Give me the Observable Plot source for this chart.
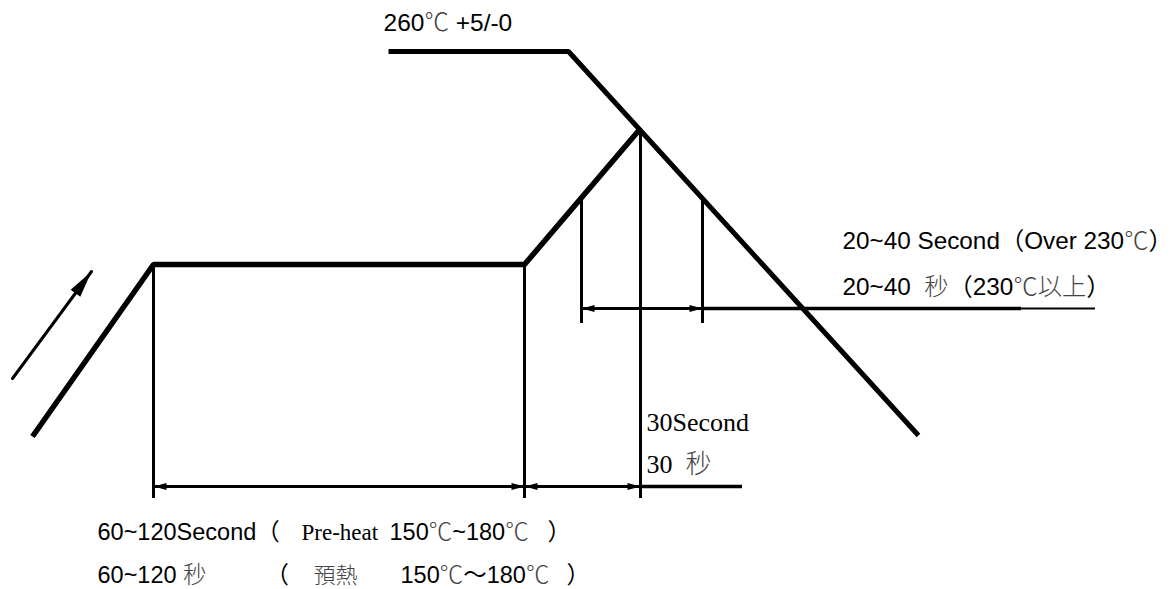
<!DOCTYPE html>
<html><head><meta charset="utf-8">
<script src="https://cdn.jsdelivr.net/npm/d3@7"></script>
<script src="https://cdn.jsdelivr.net/npm/@observablehq/plot@0.6"></script>
<style>
html,body{margin:0;padding:0;background:#fff}
</style>
</head><body><div id="chart"></div>
<script>
// ---- profile data (diagram units: x = time axis, y = drawing units, top = 0) ----
const heatX = [32, 153, 524, 640];
const heatY = [436, 264, 264, 128];
const coolX = [388, 568, 918];
const coolY = [51, 51, 435];

// vertical guide lines
const guideX = [153, 524, 640, 581, 702];
const guideTop = [264, 264, 128, 200, 200];
const guideBottom = [498, 498, 498, 323, 323];

// dimension lines with arrowheads at both ends
const dimX1 = [153, 524, 581];
const dimX2 = [524, 640, 702];
const dimY = [486, 486, 308];

// plain extension lines
const extAX1 = [640, 702];
const extAX2 = [742, 1021];
const extAY = [486, 308];
const extBX1 = [1021];
const extBX2 = [1095];
const extBY = [308];

// ramp-up direction arrow
const rampX = [12, 91];
const rampY = [378, 271];

// labels
const topLabels = ["260℃ +5/-0"];
const topLabelX = [383];
const topLabelY = [23];

const rightLabels = ["20~40 Second（Over 230℃）", "20~40  秒（230℃以上）"];
const rightLabelX = [842, 842];
const rightLabelY = [241, 287];

const midLabels = ["30Second", "30  秒"];
const midLabelX = [646, 646];
const midLabelY = [422, 464];

const bottomSans = ["60~120Second（", "150℃~180℃", "）", "60~120 秒", "（", "150℃～180℃", "）"];
const bottomSansX = [97, 389, 547, 97, 265, 400, 566];
const bottomSansY = [532, 532, 532, 575, 575, 575, 575];

const bottomSerif = ["Pre-heat"];
const bottomSerifX = [301];
const bottomSerifY = [532];

const bottomCJK = ["預熱"];
const bottomCJKX = [313];
const bottomCJKY = [575];

// ---- build tables ----
const zip = (xs, ys) => xs.map((x, i) => ({x, y: ys[i]}));
const heat = zip(heatX, heatY);
const cool = zip(coolX, coolY);
const guides = guideX.map((x, i) => ({x, top: guideTop[i], bottom: guideBottom[i]}));
const dims = dimX1.map((x1, i) => ({x1, x2: dimX2[i], y: dimY[i]}));
const extA = extAX1.map((x1, i) => ({x1, x2: extAX2[i], y: extAY[i]}));
const extB = extBX1.map((x1, i) => ({x1, x2: extBX2[i], y: extBY[i]}));
const ramp = [{x1: rampX[0], y1: rampY[0], x2: rampX[1], y2: rampY[1]}];
const labels = (t, xs, ys) => t.map((text, i) => ({text, x: xs[i], y: ys[i]}));

// arrowhead symbol: tip at origin, pointing along angle (deg, clockwise from up)
function head(len, half, angle) {
  const a = angle * Math.PI / 180, c = Math.cos(a), s = Math.sin(a);
  const rot = (px, py) => [px * c - py * s, px * s + py * c];
  return {
    draw(ctx) {
      const p0 = rot(0, 0), p1 = rot(half, len), p2 = rot(-half, len);
      ctx.moveTo(p0[0], p0[1]);
      ctx.lineTo(p1[0], p1[1]);
      ctx.lineTo(p2[0], p2[1]);
      ctx.closePath();
    }
  };
}
const rampAngle = Math.atan2(rampX[1] - rampX[0], rampY[0] - rampY[1]) * 180 / Math.PI;

const sans = "'Liberation Sans', Arial, 'Noto Sans CJK TC', sans-serif";
const serif = "'Liberation Serif', 'Times New Roman', 'Noto Sans CJK TC', serif";

const chart = Plot.plot({
  width: 1175,
  height: 589,
  margin: 0,
  x: {domain: [0, 1175], range: [0, 1175], axis: null},
  y: {domain: [0, 589], range: [0, 589], axis: null},
  style: {background: "#fff", color: "#000"},
  marks: [
    Plot.ruleX(guides, {x: "x", y1: "top", y2: "bottom", stroke: "#000", strokeWidth: 3}),
    Plot.ruleY(dims, {y: "y", x1: "x1", x2: "x2", stroke: "#000", strokeWidth: 3}),
    Plot.ruleY(extA, {y: "y", x1: "x1", x2: "x2", stroke: "#000", strokeWidth: 3.5}),
    Plot.ruleY(extB, {y: "y", x1: "x1", x2: "x2", stroke: "#000", strokeWidth: 2}),
    Plot.dot(dims, {x: "x1", y: "y", symbol: head(13, 3.5, -90), fill: "#000", stroke: null}),
    Plot.dot(dims, {x: "x2", y: "y", symbol: head(13, 3.5, 90), fill: "#000", stroke: null}),
    Plot.line(heat, {x: "x", y: "y", stroke: "#000", strokeWidth: 5.5, strokeLinejoin: "miter", strokeLinecap: "butt"}),
    Plot.line(cool, {x: "x", y: "y", stroke: "#000", strokeWidth: 5, strokeLinejoin: "miter", strokeLinecap: "butt"}),
    Plot.link(ramp, {x1: "x1", y1: "y1", x2: "x2", y2: "y2", stroke: "#000", strokeWidth: 3, strokeLinecap: "round"}),
    Plot.dot(ramp, {x: "x2", y: "y2", symbol: head(27, 6, rampAngle), fill: "#000", stroke: null}),
    Plot.text(labels(topLabels, topLabelX, topLabelY), {x: "x", y: "y", text: "text", textAnchor: "start", fontFamily: sans, fontSize: 24.5, fill: "#000"}),
    Plot.text(labels(rightLabels, rightLabelX, rightLabelY), {x: "x", y: "y", text: "text", textAnchor: "start", fontFamily: sans, fontSize: 24.3, fill: "#000"}),
    Plot.text(labels(midLabels, midLabelX, midLabelY), {x: "x", y: "y", text: "text", textAnchor: "start", fontFamily: serif, fontSize: 26, fill: "#000"}),
    Plot.text(labels(bottomSans, bottomSansX, bottomSansY), {x: "x", y: "y", text: "text", textAnchor: "start", fontFamily: sans, fontSize: 23.5, fill: "#000"}),
    Plot.text(labels(bottomSerif, bottomSerifX, bottomSerifY), {x: "x", y: "y", text: "text", textAnchor: "start", fontFamily: serif, fontSize: 23, fill: "#000"}),
    Plot.text(labels(bottomCJK, bottomCJKX, bottomCJKY), {x: "x", y: "y", text: "text", textAnchor: "start", fontFamily: "'Noto Sans CJK TC', sans-serif", fontSize: 22, fill: "#444"})
  ]
});

// render ℃ and CJK characters in a lighter, full-width CJK face (as in the reference)
const special = /([℃\u4e00-\u9fff]+)/;
chart.querySelectorAll("text").forEach(t => {
  const s = t.textContent;
  if (!special.test(s) || t.getAttribute("font-family") === "'Noto Sans CJK TC', sans-serif") return;
  t.textContent = "";
  s.split(special).forEach(part => {
    if (!part) return;
    const span = document.createElementNS("http://www.w3.org/2000/svg", "tspan");
    span.textContent = part;
    if (special.test(part)) {
      span.setAttribute("font-family", "'Noto Sans CJK TC', sans-serif");
      span.setAttribute("fill", "#444");
      span.setAttribute("font-weight", "300");
    }
    t.appendChild(span);
  });
});
document.getElementById("chart").appendChild(chart);
</script>
</body></html>
